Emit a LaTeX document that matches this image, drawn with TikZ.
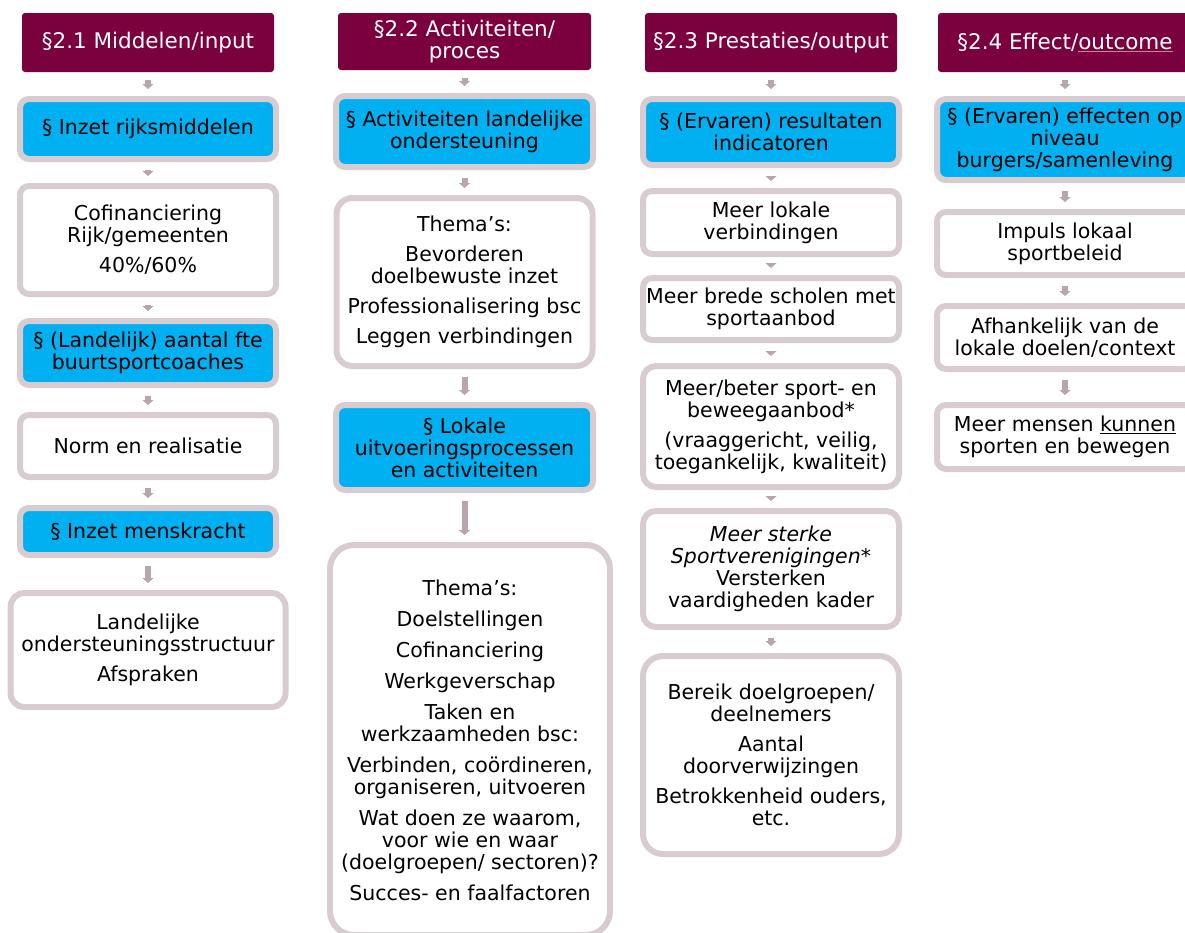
\documentclass[tikz,border=0pt]{standalone}
\usepackage{fontspec}
\setmainfont{DejaVu Sans}
\usetikzlibrary{arrows.meta}
\definecolor{kopkleur}{RGB}{122,0,62}
\definecolor{blauwkleur}{RGB}{0,176,240}
\definecolor{randkleur}{RGB}{216,204,208}
\definecolor{pijlkleur}{RGB}{185,165,173}
\definecolor{spelrood}{RGB}{230,120,140}
\begin{document}
\begin{tikzpicture}[x=1pt,y=-1pt,font=\fontsize{20.5}{22}\selectfont,
  kop/.style={fill=kopkleur, text=white, rounded corners=3pt, align=center, inner sep=0pt, minimum width=252pt, minimum height=59pt, font=\fontsize{21.5}{22}\selectfont},
  vak/.style={draw=randkleur, line width=6pt, rounded corners=9pt, align=center, inner sep=0pt, minimum width=256pt},
  blauw/.style={vak, fill=blauwkleur},
  wit/.style={vak, fill=white},
  pijl/.style={draw=pijlkleur, line width=6pt, -{Triangle[width=11pt,length=5pt]}, shorten <=8pt, shorten >=7pt}]
  \useasboundingbox (0,0) rectangle (1185,932);
  % kolom 1
  \node[kop] (k1) at (148,42.5) {§2.1 Middelen/input};
  \node[blauw, minimum height=60pt] (b1) at (148,129) {§ Inzet rijksmiddelen};
  \node[wit, minimum height=108pt] (w1) at (148,240) {Cofinanciering\\Rijk/gemeenten\\[8pt]40\%/60\%};
  \node[blauw, minimum height=64pt] (b2) at (148,353) {§ (Landelijk) aantal fte\\buurtsportcoaches};
  \node[wit, minimum height=62pt] (w2) at (148,446) {Norm en realisatie};
  \node[blauw, minimum height=47pt] (b3) at (148,531.5) {§ Inzet menskracht};
  \node[wit, minimum width=275pt, minimum height=114pt, rounded corners=14pt] (w3) at (148,650) {Landelijke\\ondersteuningsstructuur\\[8pt]Afspraken};
  \draw[pijl] (k1) -- (b1); \draw[pijl] (b1) -- (w1); \draw[pijl] (w1) -- (b2);
  \draw[pijl] (b2) -- (w2); \draw[pijl] (w2) -- (b3); \draw[pijl] (b3) -- (w3);
  % kolom 2
  \node[kop, minimum width=253pt, minimum height=57pt] (k2) at (464.5,41.5) {§2.2 Activiteiten/\\proces};
  \node[blauw, minimum width=257pt, minimum height=71pt] (b4) at (464.5,131.5) {§ Activiteiten landelijke\\ondersteuning};
  \node[wit, minimum height=168pt, rounded corners=16pt] (w4) at (464.5,282) {Thema’s:\\[8pt]Bevorderen\\doelbewuste inzet\\[8pt]Professionalisering bsc\\[8pt]Leggen verbindingen};
  \node[blauw, minimum width=257pt, minimum height=85pt] (b5) at (464.5,447.5) {§ Lokale\\uitvoeringsprocessen\\en activiteiten};
  \node[wit, minimum width=280pt, minimum height=390pt, rounded corners=24pt] (w5) at (470,740) {Thema’s:\\[9pt]Doelstellingen\\[9pt]Cofinanciering\\[9pt]Werkgeverschap\\[9pt]Taken en\\werkzaamheden bsc:\\[9pt]Verbinden, coördineren,\\organiseren, uitvoeren\\[9pt]Wat doen ze waarom,\\voor wie en waar\\(doelgroepen/ sectoren)?\\[9pt]Succes- en faalfactoren};
  \draw[pijl] (k2) -- (b4); \draw[pijl] (b4) -- (w4); \draw[pijl] (w4) -- (b5);
  \draw[pijl] (b5.south) -- (b5.south |- w5.north);
  % kolom 3
  \node[kop] (k3) at (771,42.5) {§2.3 Prestaties/output};
  \node[blauw, minimum height=66pt] (b6) at (771,132) {§ (Ervaren) resultaten\\indicatoren};
  \node[wit, minimum height=63pt] (w6) at (771,222.5) {Meer lokale\\verbindingen};
  \node[wit, minimum height=62pt] (w7) at (771,309) {Meer brede scholen met\\sportaanbod};
  \node[wit, minimum height=121pt, rounded corners=13pt] (w8) at (771,426.5) {Meer/beter sport- en\\beweegaanbod*\\[8pt](vraaggericht, veilig,\\toegankelijk, kwaliteit)};
  \node[wit, minimum height=116pt, rounded corners=13pt] (w9) at (771,569) {\textit{Meer sterke}\\\textit{Sportverenigingen}*\\Versterken\\vaardigheden kader};
  \node[wit, minimum height=198pt, rounded corners=20pt] (w10) at (771,755) {Bereik doelgroepen/\\deelnemers\\[8pt]Aantal\\doorverwijzingen\\[8pt]Betrokkenheid ouders,\\etc.};
  \draw[pijl] (k3) -- (b6); \draw[pijl] (b6) -- (w6); \draw[pijl] (w6) -- (w7);
  \draw[pijl] (w7) -- (w8); \draw[pijl] (w8) -- (w9); \draw[pijl] (w9) -- (w10);
  % kolom 4
  \node[kop, minimum width=254pt] (k4) at (1065,42.5) {§2.4 Effect/{\color{spelrood}\underline{\color{white}outcome}}};
  \node[blauw, minimum height=81pt] (b7) at (1065,139.5) {§ (Ervaren) effecten op\\niveau\\burgers/samenleving};
  \node[wit, minimum height=63pt] (w11) at (1065,243.5) {Impuls lokaal\\sportbeleid};
  \node[wit, minimum height=63pt] (w12) at (1065,337.5) {Afhankelijk van de\\lokale doelen/context};
  \node[wit, minimum height=64pt] (w13) at (1065,437) {Meer mensen \underline{kunnen}\\sporten en bewegen};
  \draw[pijl] (k4) -- (b7); \draw[pijl] (b7) -- (w11); \draw[pijl] (w11) -- (w12); \draw[pijl] (w12) -- (w13);
\end{tikzpicture}
\end{document}
